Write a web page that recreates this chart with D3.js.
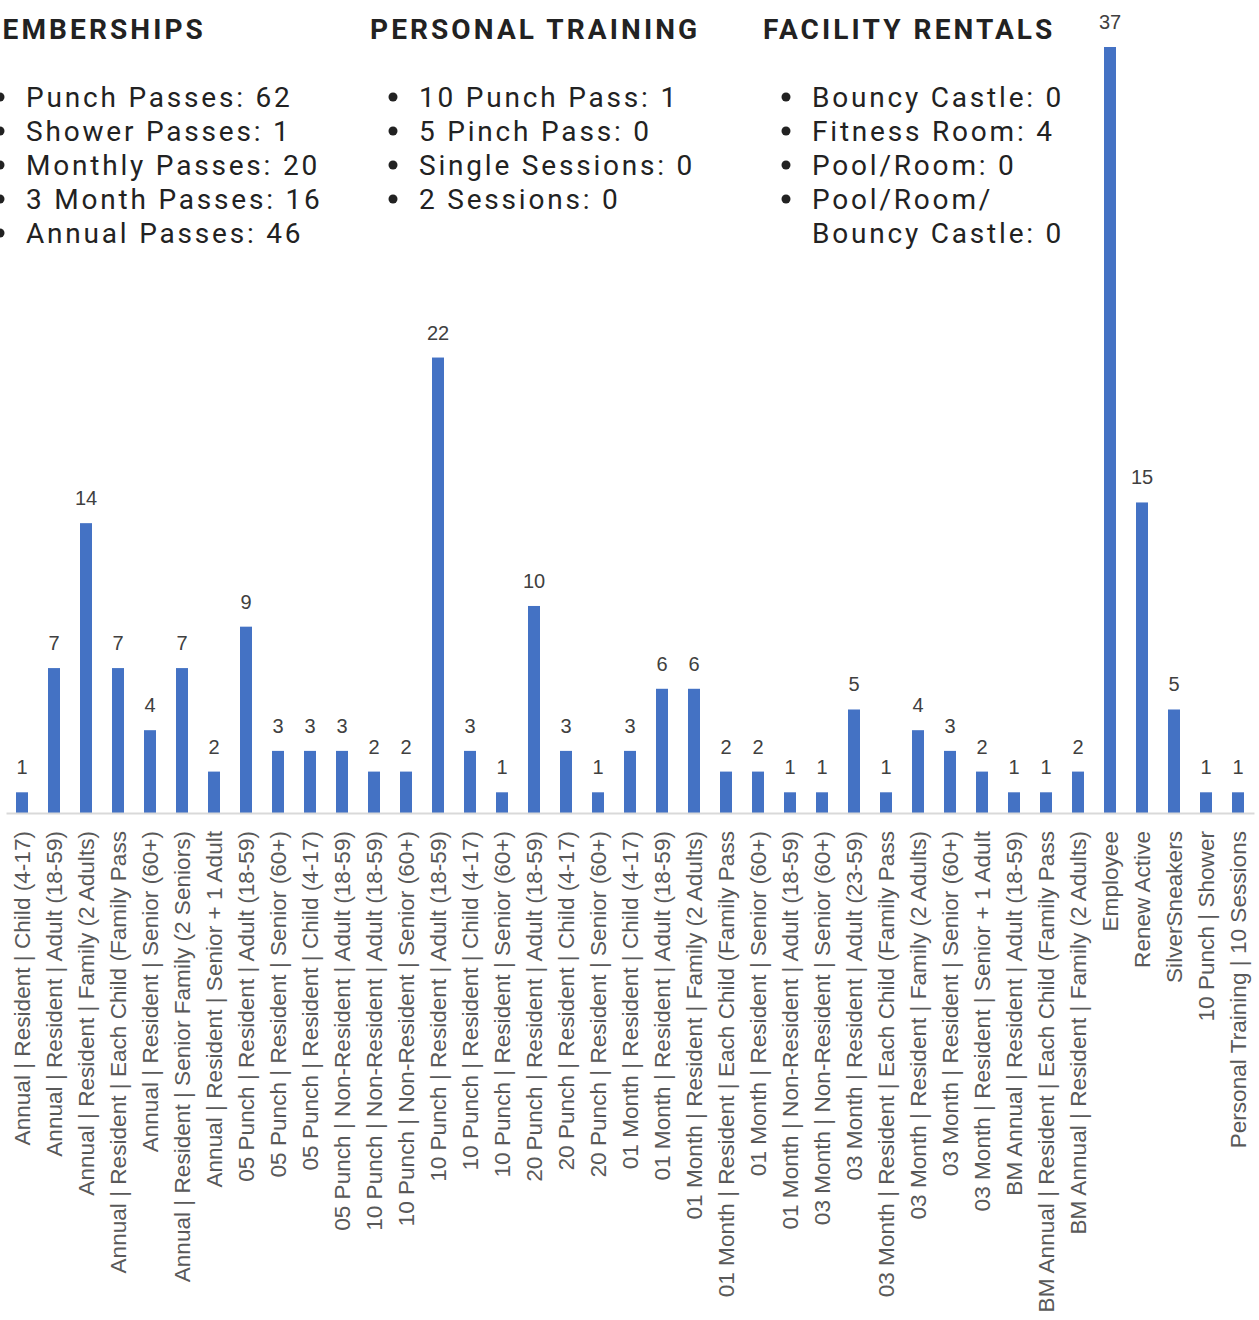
<!DOCTYPE html>
<html>
<head>
<meta charset="utf-8">
<script src="https://cdn.jsdelivr.net/npm/d3@7"></script>
<style>
  html, body { margin: 0; padding: 0; background: #fff; overflow: hidden; }
  svg { display: block; }
</style>
</head>
<body>
<svg id="chart" width="1259" height="1320"></svg>
<script>
// bar chart data
const categories = [
  'Annual | Resident | Child (4-17)',
  'Annual | Resident | Adult (18-59)',
  'Annual | Resident | Family (2 Adults)',
  'Annual | Resident | Each Child (Family Pass',
  'Annual | Resident | Senior (60+)',
  'Annual | Resident | Senior Family (2 Seniors)',
  'Annual | Resident | Senior + 1 Adult',
  '05 Punch | Resident | Adult (18-59)',
  '05 Punch | Resident | Senior (60+)',
  '05 Punch | Resident | Child (4-17)',
  '05 Punch | Non-Resident | Adult (18-59)',
  '10 Punch | Non-Resident | Adult (18-59)',
  '10 Punch | Non-Resident | Senior (60+)',
  '10 Punch | Resident | Adult (18-59)',
  '10 Punch | Resident | Child (4-17)',
  '10 Punch | Resident | Senior (60+)',
  '20 Punch | Resident | Adult (18-59)',
  '20 Punch | Resident | Child (4-17)',
  '20 Punch | Resident | Senior (60+)',
  '01 Month | Resident | Child (4-17)',
  '01 Month | Resident | Adult (18-59)',
  '01 Month | Resident | Family (2 Adults)',
  '01 Month | Resident | Each Child (Family Pass',
  '01 Month | Resident | Senior (60+)',
  '01 Month | Non-Resident | Adult (18-59)',
  '03 Month | Non-Resident | Senior (60+)',
  '03 Month | Resident | Adult (23-59)',
  '03 Month | Resident | Each Child (Family Pass',
  '03 Month | Resident | Family (2 Adults)',
  '03 Month | Resident | Senior (60+)',
  '03 Month | Resident | Senior + 1 Adult',
  'BM Annual | Resident | Adult (18-59)',
  'BM Annual | Resident | Each Child (Family Pass',
  'BM Annual | Resident | Family (2 Adults)',
  'Employee',
  'Renew Active',
  'SilverSneakers',
  '10 Punch | Shower',
  'Personal Training | 10 Sessions'
];
const values = [1, 7, 14, 7, 4, 7, 2, 9, 3, 3, 3, 2, 2, 22, 3, 1, 10, 3, 1,
  3, 6, 6, 2, 2, 1, 1, 5, 1, 4, 3, 2, 1, 1, 2, 37, 15, 5, 1, 1];

// summary text blocks
const headings = ['MEMBERSHIPS', 'PERSONAL TRAINING', 'FACILITY RENTALS'];
const membershipItems = ['Punch Passes: 62', 'Shower Passes: 1', 'Monthly Passes: 20',
  '3 Month Passes: 16', 'Annual Passes: 46'];
const trainingItems = ['10 Punch Pass: 1', '5 Pinch Pass: 0', 'Single Sessions: 0', '2 Sessions: 0'];
const rentalItems = ['Bouncy Castle: 0', 'Fitness Room: 4', 'Pool/Room: 0', ['Pool/Room/', 'Bouncy Castle: 0']];

const svg = d3.select('#chart');
const data = categories.map((c, i) => ({ name: c, value: values[i] }));

const baseY = 813;
const x = d3.scaleBand()
  .domain(categories)
  .range([6, 1254])
  .paddingInner(0.625)
  .paddingOuter(0.3125);
const y = d3.scaleLinear()
  .domain([0, 37])
  .range([baseY, 47]);

// text columns (first one runs off the left edge, like the source)
const columns = [
  { title: headings[0], tx: -25, bx: 0, items: membershipItems },
  { title: headings[1], tx: 370, bx: 393, items: trainingItems },
  { title: headings[2], tx: 763, bx: 786, items: rentalItems }
];
const textG = svg.append('g').attr('class', 'summary');
columns.forEach(col => {
  textG.append('text')
    .attr('x', col.tx)
    .attr('y', 39)
    .attr('font-family', 'Roboto, sans-serif')
    .attr('font-weight', 700)
    .attr('font-size', 28)
    .attr('letter-spacing', 3.1)
    .attr('fill', '#222')
    .text(col.title);
  let line = 0;
  col.items.forEach(item => {
    const lines = Array.isArray(item) ? item : [item];
    textG.append('circle')
      .attr('cx', col.bx)
      .attr('cy', 97 + line * 34)
      .attr('r', 4.5)
      .attr('fill', '#222');
    lines.forEach(l => {
      textG.append('text')
        .attr('x', col.bx + 26)
        .attr('y', 107 + line * 34)
        .attr('font-family', 'Roboto, sans-serif')
        .attr('font-size', 28)
        .attr('letter-spacing', 2.8)
        .attr('fill', '#222')
        .text(l);
      line++;
    });
  });
});

// bars
svg.append('g')
  .attr('class', 'bars')
  .selectAll('rect')
  .data(data)
  .enter()
  .append('rect')
  .attr('x', d => x(d.name))
  .attr('y', d => y(d.value))
  .attr('width', x.bandwidth())
  .attr('height', d => baseY - y(d.value))
  .attr('fill', '#4472c4');

// value labels
svg.append('g')
  .attr('class', 'labels')
  .selectAll('text')
  .data(data)
  .enter()
  .append('text')
  .attr('x', d => x(d.name) + x.bandwidth() / 2)
  .attr('y', d => y(d.value) - 18)
  .attr('text-anchor', 'middle')
  .attr('font-family', '"Liberation Sans", Arial, sans-serif')
  .attr('font-size', 20)
  .attr('fill', '#404040')
  .text(d => d.value);

// category axis
const axis = svg.append('g')
  .attr('transform', `translate(0,${baseY})`)
  .call(d3.axisBottom(x).tickSize(0).tickSizeOuter(0));
axis.select('.domain')
  .attr('stroke', '#d9d9d9')
  .attr('stroke-width', 2);
axis.selectAll('.tick text')
  .attr('font-family', '"Liberation Sans", Arial, sans-serif')
  .attr('font-size', 22.6)
  .attr('fill', '#595959')
  .attr('text-anchor', 'end')
  .attr('transform', 'rotate(-90)')
  .attr('x', -18)
  .attr('y', 0)
  .attr('dy', '0.35em');
</script>
</body>
</html>
